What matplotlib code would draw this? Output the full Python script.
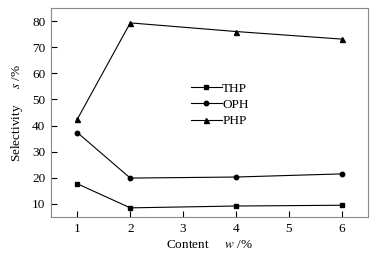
import matplotlib
matplotlib.use("Agg")
import matplotlib.pyplot as plt

plt.rcParams['font.family'] = ['Liberation Serif', 'DejaVu Serif']
plt.rcParams['mathtext.fontset'] = 'stix'

content = [1, 2, 4, 6]
thp = [17.7, 8.5, 9.2, 9.5]
oph = [37.3, 19.9, 20.3, 21.5]
php = [42.5, 79.3, 76.0, 73.1]
xticks = [1, 2, 3, 4, 5, 6]
yticks = [10, 20, 30, 40, 50, 60, 70, 80]

fig = plt.figure(figsize=(3.76, 2.59), dpi=100)
ax = fig.add_axes([51/376, 1-217/259, (368-51)/376, (217-8)/259])

ax.plot(content, thp, color='black', lw=0.8, marker='s', ms=3.2, label='THP')
ax.plot(content, oph, color='black', lw=0.8, marker='o', ms=3.2, label='OPH')
ax.plot(content, php, color='black', lw=0.8, marker='^', ms=3.6, label='PHP')

ax.set_xlim(0.5, 6.5)
ax.set_ylim(5, 85)
ax.set_xticks(xticks)
ax.set_yticks(yticks)
ax.tick_params(direction='in', length=4, width=0.8, labelsize=9.5, pad=4, colors='black')
for s in ax.spines.values():
    s.set_color('#888888')
    s.set_linewidth(0.8)

ax.set_xlabel(r'Content     $\it{w}$ /%', fontsize=9.5, labelpad=3)
ax.set_ylabel(r'Selectivity     $\it{s}$ /%', fontsize=9.5, labelpad=5)

ax.legend(loc='upper left', bbox_to_anchor=(0.405, 0.7), frameon=False, fontsize=9.5,
          handlelength=2.3, handletextpad=0.05, labelspacing=0.3)

fig.savefig('out.png', dpi=100)
